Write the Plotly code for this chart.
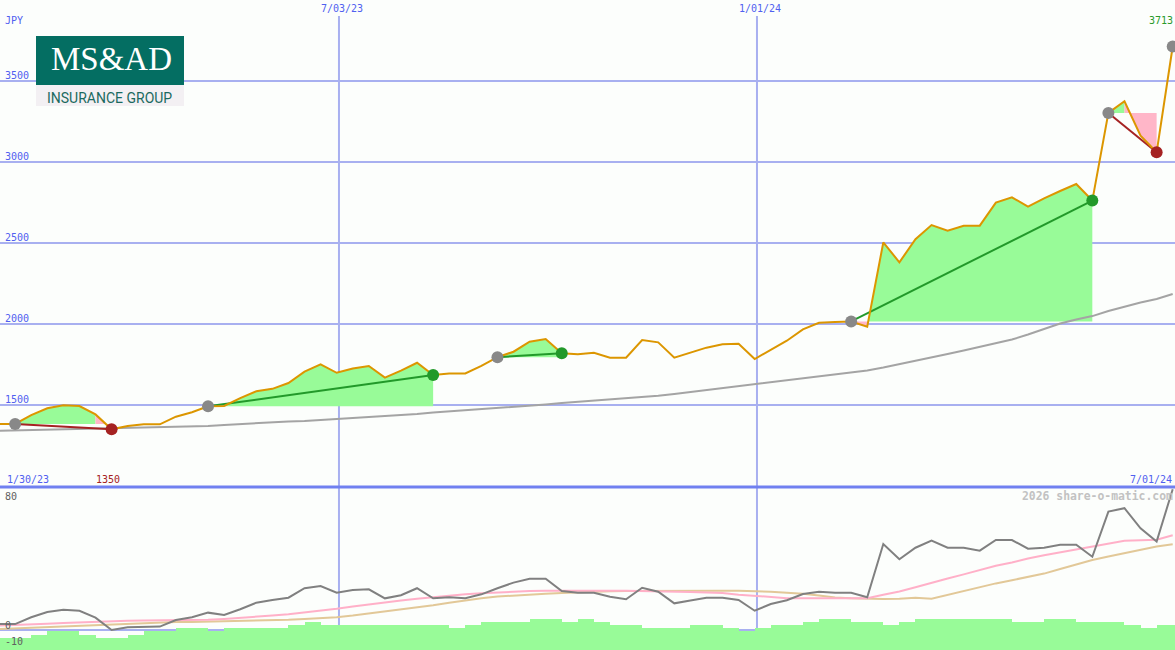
import pandas as pd
import plotly.graph_objects as go

# ---------------- data ----------------
dates = pd.date_range("2023-02-05", periods=74, freq="7D")

price = [1383, 1383, 1438, 1480, 1498, 1494, 1442, 1350, 1370, 1381, 1381,
         1428, 1455, 1492, 1494, 1543, 1585, 1600, 1636, 1706, 1751,
         1699, 1726, 1741, 1669, 1712, 1761, 1685, 1695, 1695, 1741,
         1795, 1829, 1891, 1907, 1819, 1813, 1823, 1792, 1792, 1901,
         1887, 1792, 1825, 1854, 1875, 1878, 1784, 1840, 1897, 1967,
         2008, 2012, 2016, 1983, 2504, 2381, 2523, 2611, 2576, 2607,
         2607, 2749, 2782, 2724, 2776, 2821, 2864, 2762, 3303, 3375,
         3162, 3060, 3713]

long_ma = [1341, 1343, 1346, 1349, 1352, 1354, 1356, 1357, 1358, 1360, 1362,
           1364, 1367, 1370, 1377, 1383, 1388, 1393, 1398, 1401, 1407,
           1414, 1420, 1426, 1432, 1438, 1444, 1454, 1461, 1466, 1472,
           1480, 1488, 1495, 1503, 1512, 1519, 1528, 1534, 1540, 1549,
           1557, 1568, 1580, 1593, 1605, 1617, 1630, 1642, 1654, 1664,
           1676, 1688, 1701, 1713, 1731, 1753, 1772, 1793, 1815, 1836,
           1858, 1880, 1904, 1935, 1969, 2003, 2028, 2049, 2080, 2108,
           2133, 2154, 2185]

osc = [3.7, 3.7, 7.9, 11.2, 12.6, 12.0, 7.7, 0.0, 1.7, 2.1, 2.1,
       6.2, 7.9, 10.8, 9.3, 12.9, 17.0, 18.7, 20.1, 26.0, 27.4,
       23.2, 24.9, 25.3, 19.7, 21.6, 26.0, 19.7, 20.4, 19.7, 22.2,
       26.0, 29.5, 31.9, 31.9, 24.3, 23.2, 23.2, 20.7, 19.1, 26.3,
       23.8, 16.6, 18.3, 20.1, 20.1, 18.7, 12.0, 16.2, 18.5, 22.4,
       23.8, 23.2, 23.2, 20.4, 53.5, 44.0, 51.2, 55.6, 51.2, 51.2,
       49.4, 56.0, 56.0, 50.6, 51.2, 53.1, 53.1, 45.6, 73.7, 75.8,
       63.3, 55.0, 87.6]

osc_fast = [2.7, 3.0, 3.4, 3.9, 4.4, 4.8, 5.1, 5.4, 5.7, 5.9, 6.0,
            6.1, 6.2, 6.4, 6.9, 7.5, 8.2, 9.0, 9.8, 10.8, 12.0,
            13.2, 14.6, 16.0, 17.3, 18.4, 19.4, 20.4, 21.4, 22.2, 22.9,
            23.4, 23.9, 24.2, 24.4, 24.5, 24.5, 24.5, 24.5, 24.4, 24.3,
            24.2, 24.0, 23.7, 23.4, 23.0, 22.0, 21.2, 20.4, 19.8, 19.7,
            19.7, 19.7, 19.7, 19.8, 22.0, 24.0, 26.6, 29.5, 32.0, 34.6,
            37.4, 40.0, 42.0, 44.5, 46.5, 48.3, 50.0, 51.9, 53.8, 55.5,
            55.9, 56.2, 59.0]

osc_slow = [0.6, 1.0, 1.4, 1.8, 2.3, 2.7, 3.1, 3.5, 3.9, 4.3, 4.6,
            4.9, 5.0, 5.2, 5.3, 5.4, 5.6, 5.9, 6.3, 6.9, 7.4,
            8.0, 9.0, 10.2, 11.4, 12.6, 14.0, 15.4, 17.0, 18.5, 19.8,
            20.8, 21.5, 22.0, 22.5, 23.0, 23.5, 23.9, 24.1, 24.2, 24.3,
            24.3, 24.4, 24.4, 24.5, 24.5, 24.4, 24.2, 23.8, 23.2, 22.6,
            21.4, 20.2, 19.7, 19.4, 19.3, 19.5, 20.0, 19.4, 21.8, 24.4,
            27.0, 29.0, 31.0, 33.0, 35.1, 38.0, 40.8, 43.6, 45.8, 47.9,
            50.0, 51.9, 53.4]

hist = [-5, -5, -3, -0.5, -0.5, -3, -5, -5, -3, -0.5, -0.5,
        1.5, 1.5, -0.5, 1.5, 1.5, 1.5, 1.5, 3, 5, 3,
        3, 3, 3, 3, 3, 3, 3, 1.5, 3, 5,
        5, 5, 7, 7, 5, 7, 5, 3, 3, 1.5,
        1.5, 1.5, 3, 3, 1.5, -0.5, 1.5, 3, 3, 5,
        7, 7, 5, 5, 3, 5, 7, 7, 7, 7,
        7, 7, 5, 5, 7, 7, 5, 5, 5, 3,
        1.5, 3, 3]

# (entry index, exit index)
trades = [(1, 7), (13, 27), (31, 35), (53, 68), (69, 72)]

grid_prices = [1500, 2000, 2500, 3000, 3500]
date_ticks = ["2023-07-03", "2024-01-01"]
date_tick_labels = ["7/03/23", "1/01/24"]
osc_ticks = [80, 0, -10]
first_label = "1/30/23"
last_label = "7/01/24"
currency = "JPY"

# ---------------- styling ----------------
W, H = 1175, 650
BG = "#fcfefc"
GRID = "#a8b0f0"
SEP = "#7080f0"
LBL = "#5060f0"
ORANGE = "#dc9600"
MA_GREY = "#a4a4a4"
FILL_G = "#98fb98"
FILL_P = "#ffb6c8"
LINE_G = "#22992a"
LINE_R = "#a52222"
DOT_GREY = "#888888"
OSC_GREY = "#808080"
PINK = "#ffb0c8"
TAN = "#e2c898"
MONO = "DejaVu Sans Mono, monospace"
SPLIT = 1 - 487 / H
BASE = -20
WEEK_MS = 7 * 86400000

fig = go.Figure()

# trade fills (per segment, coloured by where the segment ends vs entry level)
gx, gy, rx, ry = [], [], [], []
for a, b in trades:
    lvl = price[a]
    for k in range(a, b):
        xs = [dates[k], dates[k], dates[k + 1], dates[k + 1], dates[k], None]
        ys = [lvl, price[k], price[k + 1], lvl, lvl, None]
        if price[k + 1] >= lvl:
            gx += xs; gy += ys
        else:
            rx += xs; ry += ys
fig.add_trace(go.Scatter(x=gx, y=gy, mode="lines", fill="toself", fillcolor=FILL_G,
                         line=dict(width=0, color=FILL_G), hoverinfo="skip"))
fig.add_trace(go.Scatter(x=rx, y=ry, mode="lines", fill="toself", fillcolor=FILL_P,
                         line=dict(width=0, color=FILL_P), hoverinfo="skip"))

# long moving average
fig.add_trace(go.Scatter(x=dates, y=long_ma, mode="lines", line=dict(color=MA_GREY, width=2)))

# trade connecting lines
for a, b in trades:
    col = LINE_G if price[b] >= price[a] else LINE_R
    fig.add_trace(go.Scatter(x=[dates[a], dates[b]], y=[price[a], price[b]], mode="lines",
                             line=dict(color=col, width=2)))

# price
fig.add_trace(go.Scatter(x=dates, y=price, mode="lines", line=dict(color=ORANGE, width=2)))

# markers
ex = [dates[a] for a, b in trades] + [dates[-1]]
ey = [price[a] for a, b in trades] + [price[-1]]
fig.add_trace(go.Scatter(x=ex, y=ey, mode="markers", marker=dict(color=DOT_GREY, size=12, line=dict(width=0))))
for a, b in trades:
    col = LINE_G if price[b] >= price[a] else LINE_R
    fig.add_trace(go.Scatter(x=[dates[b]], y=[price[b]], mode="markers",
                             marker=dict(color=col, size=12, line=dict(width=0))))

# ---------------- lower panel ----------------
fig.add_trace(go.Bar(x=dates, y=[h - BASE for h in hist], base=BASE, width=WEEK_MS, offset=0,
                     marker=dict(color=FILL_G, line=dict(width=0)), yaxis="y2"))
fig.add_trace(go.Scatter(x=dates, y=osc_slow, mode="lines", line=dict(color=TAN, width=2), yaxis="y2"))
fig.add_trace(go.Scatter(x=dates, y=osc_fast, mode="lines", line=dict(color=PINK, width=2), yaxis="y2"))
fig.add_trace(go.Scatter(x=dates, y=osc, mode="lines", line=dict(color=OSC_GREY, width=2), yaxis="y2"))

# ---------------- shapes ----------------
shapes = []
for gp in grid_prices:
    shapes.append(dict(type="line", xref="paper", yref="y", x0=0, x1=1, y0=gp, y1=gp,
                       line=dict(color=GRID, width=2), layer="below"))
for d in date_ticks:
    shapes.append(dict(type="line", xref="x", yref="paper", x0=d, x1=d, y0=0, y1=1 - 16 / H,
                       line=dict(color=GRID, width=2), layer="below"))
shapes.append(dict(type="line", xref="paper", yref="y2", x0=0, x1=1, y0=0, y1=0,
                   line=dict(color=GRID, width=2), layer="below"))
shapes.append(dict(type="line", xref="paper", yref="paper", x0=0, x1=1, y0=SPLIT, y1=SPLIT,
                   line=dict(color=SEP, width=3), layer="above"))
# logo
shapes.append(dict(type="rect", xref="paper", yref="paper", x0=36 / W, x1=184 / W,
                   y0=1 - 106 / H, y1=1 - 85 / H, fillcolor="#f3f0f3", line=dict(width=0), layer="above"))
shapes.append(dict(type="rect", xref="paper", yref="paper", x0=36 / W, x1=184 / W,
                   y0=1 - 85 / H, y1=1 - 36 / H, fillcolor="#046e62", line=dict(width=0), layer="above"))

# ---------------- annotations ----------------
ann = []

def txt(text, x, y, color, xanchor="left", size=10, family=MONO, xref="paper", yref="paper",
        yshift=0, xshift=0):
    ann.append(dict(text=text, x=x, y=y, xref=xref, yref=yref, xanchor=xanchor, yanchor="middle",
                    showarrow=False, font=dict(family=family, size=size, color=color),
                    yshift=yshift, xshift=xshift, borderpad=0))

txt(currency, 4 / W, 1 - 21 / H, LBL)
for gp in grid_prices:
    txt(str(gp), 4 / W, gp, LBL, yref="y", yshift=6)
for d, lab in zip(date_ticks, date_tick_labels):
    txt(lab, d, 1 - 9 / H, LBL, xanchor="center", xref="x", xshift=3)
txt(str(price[-1]), 1174 / W, 1 - 21 / H, "#2a9a2a", xanchor="right")
txt(first_label, 6 / W, 1 - 479 / H, LBL)
txt(str(min(price)), 108 / W, 1 - 479 / H, LINE_R, xanchor="center")
txt(last_label, 1173 / W, 1 - 479 / H, LBL, xanchor="right")
for v in osc_ticks:
    txt(str(v), 4 / W, v, "#606060", yref="y2", yshift=5)
txt("<b>2026 share-o-matic.com</b>", 1174 / W, 1 - 496 / H, "#c2c2c2", xanchor="right", size=11.4)
# logo texts
txt("MS&AD", 111 / W, 1 - 59 / H, "#ffffff", xanchor="center", size=33,
    family="Liberation Serif, serif")
txt("INSURANCE GROUP", 109 / W, 1 - 98 / H, "#1b6a5f", xanchor="center", size=14,
    family="Liberation Sans Narrow, Roboto, sans-serif")

fig.update_layout(
    width=W, height=H, margin=dict(l=0, r=0, t=0, b=0),
    paper_bgcolor=BG, plot_bgcolor=BG, showlegend=False, bargap=0,
    xaxis=dict(range=["2023-02-05 10:00", "2024-07-01"], visible=False, anchor="y"),
    yaxis=dict(domain=[SPLIT, 1], range=[994, 4000], visible=False),
    yaxis2=dict(domain=[0, SPLIT], range=[-12.45, 89.0], visible=False, anchor="x"),
    shapes=shapes, annotations=ann,
)

fig.write_html("out.html", config={"displayModeBar": False},
               post_script="document.body.style.margin='0px';")
